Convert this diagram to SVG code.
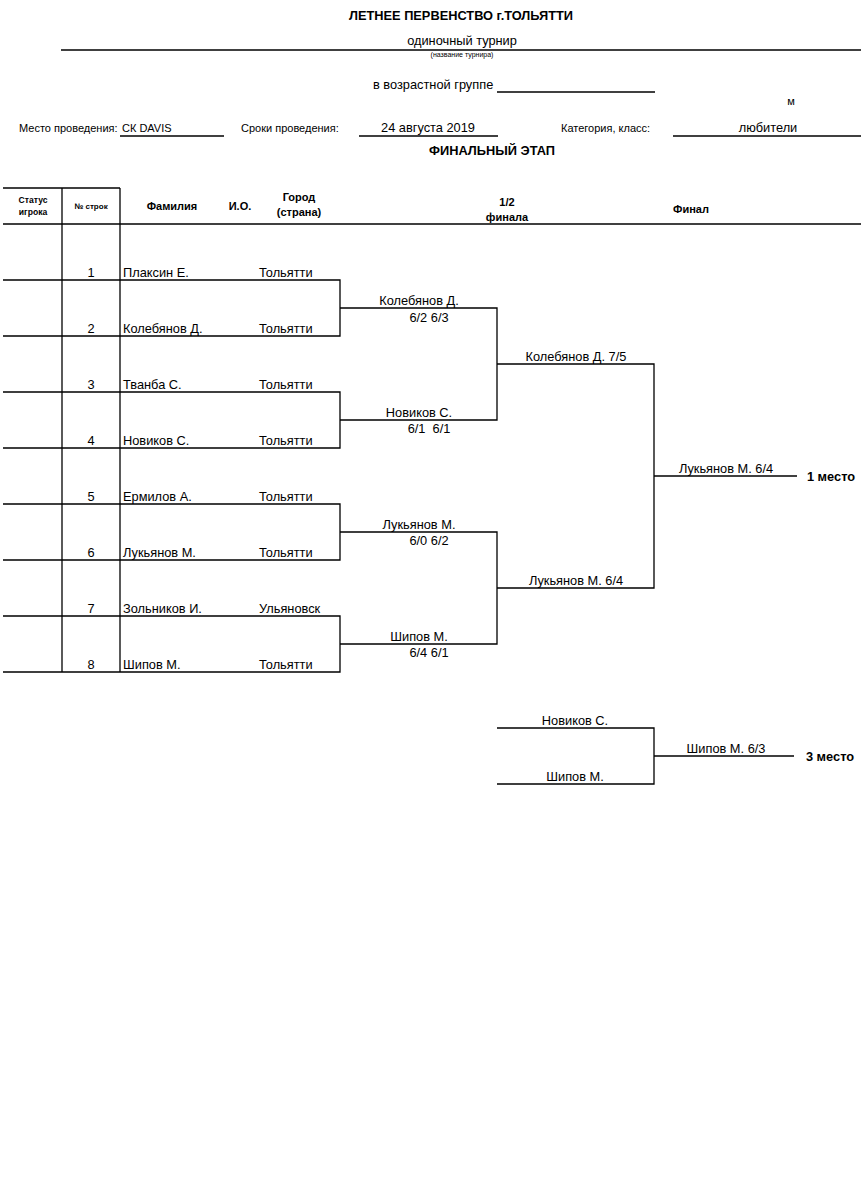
<svg xmlns="http://www.w3.org/2000/svg" width="861" height="1202" viewBox="0 0 861 1202">
<style>
text{font-family:"Liberation Sans",Arial,sans-serif;fill:#000}
.n{font-size:12.8px}
.s{font-size:11px}
.b{font-weight:bold}
.c{text-anchor:middle}
.h{font-size:8.6px;font-weight:bold;text-anchor:middle}
line,path{stroke:#000;stroke-width:1.3;fill:none}
</style>
<rect width="861" height="1202" fill="#fff"/>
<g id="header">
<text class="n b c" x="461" y="20">ЛЕТНЕЕ ПЕРВЕНСТВО г.ТОЛЬЯТТИ</text>
<text class="n c" x="462" y="45">одиночный турнир</text>
<line x1="61" y1="50" x2="861" y2="50"/>
<text class="c" style="font-size:7px" x="462" y="57">(название турнира)</text>
<text class="n" x="373" y="89">в возрастной группе</text>
<line x1="497" y1="92" x2="655" y2="92"/>
<text class="s c" x="791" y="105">м</text>
<text class="s" x="19" y="132">Место проведения:</text>
<text class="s" x="122" y="132">СК DAVIS</text>
<line x1="120" y1="136" x2="224" y2="136"/>
<text class="s" x="241" y="132">Сроки проведения:</text>
<text class="n c" x="428" y="132">24 августа 2019</text>
<line x1="359" y1="136" x2="498" y2="136"/>
<text class="s" x="561" y="132">Категория, класс:</text>
<text class="n c" x="768" y="132">любители</text>
<line x1="673" y1="136" x2="861" y2="136"/>
<text class="n b c" x="492" y="155">ФИНАЛЬНЫЙ ЭТАП</text>
</g>
<g id="table-header">
<line x1="3" y1="188" x2="120" y2="188"/>
<line x1="3" y1="224" x2="861" y2="224"/>
<text class="h" x="33" y="203">Статус</text>
<text class="h" x="33" y="215">игрока</text>
<text class="h" x="91" y="209" style="font-size:8px">№ строк</text>
<text class="s b c" x="172" y="210">Фамилия</text>
<text class="s b c" x="240" y="210">И.О.</text>
<text class="s b c" x="299" y="201">Город</text>
<text class="s b c" x="299" y="216">(страна)</text>
<text class="s b c" x="507" y="206">1/2</text>
<text class="s b c" x="507" y="221">финала</text>
<text class="s b c" x="691" y="213">Финал</text>
</g>
<g id="grid">
<line x1="62" y1="188" x2="62" y2="672"/>
<line x1="120" y1="188" x2="120" y2="672"/>
</g>
<g id="players">
<g id="p1"><text class="n c" x="91" y="277">1</text><text class="n" x="123" y="277">Плаксин Е.</text><text class="n" x="259" y="277">Тольятти</text></g>
<g id="p2"><text class="n c" x="91" y="333">2</text><text class="n" x="123" y="333">Колебянов Д.</text><text class="n" x="259" y="333">Тольятти</text></g>
<g id="p3"><text class="n c" x="91" y="389">3</text><text class="n" x="123" y="389">Тванба С.</text><text class="n" x="259" y="389">Тольятти</text></g>
<g id="p4"><text class="n c" x="91" y="445">4</text><text class="n" x="123" y="445">Новиков С.</text><text class="n" x="259" y="445">Тольятти</text></g>
<g id="p5"><text class="n c" x="91" y="501">5</text><text class="n" x="123" y="501">Ермилов А.</text><text class="n" x="259" y="501">Тольятти</text></g>
<g id="p6"><text class="n c" x="91" y="557">6</text><text class="n" x="123" y="557">Лукьянов М.</text><text class="n" x="259" y="557">Тольятти</text></g>
<g id="p7"><text class="n c" x="91" y="613">7</text><text class="n" x="123" y="613">Зольников И.</text><text class="n" x="259" y="613">Ульяновск</text></g>
<g id="p8"><text class="n c" x="91" y="669">8</text><text class="n" x="123" y="669">Шипов М.</text><text class="n" x="259" y="669">Тольятти</text></g>
</g>
<g id="connectors">
<path d="M3 280H340V336H3"/>
<path d="M3 392H340V448H3"/>
<path d="M3 504H340V560H3"/>
<path d="M3 616H340V672H3"/>
<path d="M340 308H497V420H340"/>
<path d="M340 532H497V644H340"/>
<path d="M497 364H654V588H497"/>
<path d="M654 476H797"/>
<path d="M497 728H654V784H497"/>
<path d="M654 756H794"/>
</g>
<g id="semifinals">
<g id="sf1"><text class="n c" x="419" y="305">Колебянов Д.</text><text class="n c" x="429" y="322">6/2 6/3</text></g>
<g id="sf2"><text class="n c" x="419" y="417">Новиков С.</text><text class="n c" x="429" y="433" xml:space="preserve">6/1  6/1</text></g>
<g id="sf3"><text class="n c" x="419" y="529">Лукьянов М.</text><text class="n c" x="429" y="545">6/0 6/2</text></g>
<g id="sf4"><text class="n c" x="419" y="641">Шипов М.</text><text class="n c" x="429" y="657">6/4 6/1</text></g>
</g>
<g id="finalists">
<g id="f1"><text class="n c" x="576" y="361">Колебянов Д. 7/5</text></g>
<g id="f2"><text class="n c" x="576" y="585">Лукьянов М. 6/4</text></g>
</g>
<g id="winner">
<text class="n c" x="726" y="473">Лукьянов М. 6/4</text>
<text class="n b c" x="831" y="481">1 место</text>
</g>
<g id="third-place">
<text class="n c" x="575" y="725">Новиков С.</text>
<text class="n c" x="575" y="781">Шипов М.</text>
<text class="n c" x="726" y="753">Шипов М. 6/3</text>
<text class="n b c" x="830" y="761">3 место</text>
</g>
</svg>
